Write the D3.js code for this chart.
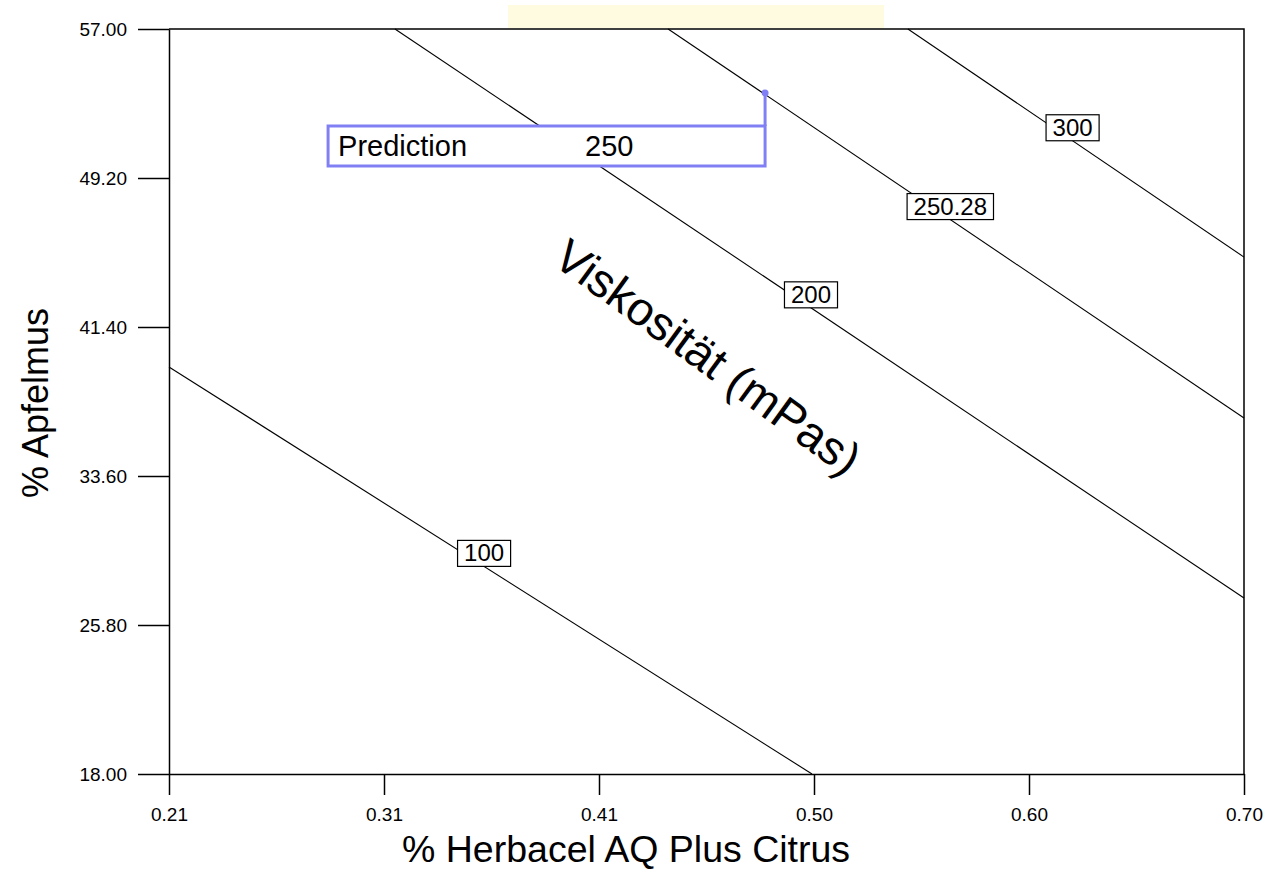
<!DOCTYPE html>
<html>
<head>
<meta charset="utf-8">
<script src="https://cdn.jsdelivr.net/npm/d3@7"></script>
<style>
  html, body { margin: 0; padding: 0; background: #fff; }
  svg { display: block; font-family: "Liberation Sans", Arial, sans-serif; }
</style>
</head>
<body>
<div id="chart"></div>
<script>
// Achsen
const xDomain = [0.21, 0.70];
const yDomain = [18.0, 57.0];
const xTicks = [0.21, 0.308, 0.406, 0.504, 0.602, 0.70];
const yTicks = [18.0, 25.8, 33.6, 41.4, 49.2, 57.0];

// Konturlinien (Viskosität), je Start- und Endpunkt in Datenkoordinaten
const contourLevels = ["100", "200", "250.28", "300"];
const contourStart = [[0.21, 39.31], [0.313, 57.0], [0.4375, 57.0], [0.5468, 57.0]];
const contourEnd = [[0.5031, 18.0], [0.70, 27.21], [0.70, 36.64], [0.70, 45.06]];

// Vorhersagepunkt
const predPoint = [0.4817, 53.65];
const predValue = "250";

const width = 1268, height = 872;
const margin = { top: 29, right: 24, bottom: 98, left: 169 };
const innerW = width - margin.left - margin.right,
  innerH = height - margin.top - margin.bottom;

const svg = d3.select("#chart").append("svg")
  .attr("width", width).attr("height", height)
  .style("background", "white");

// gelber Kasten oben
svg.append("rect")
  .attr("x", 508).attr("y", 5).attr("width", 376).attr("height", 23)
  .attr("fill", "#fefbe0");

const g = svg.append("g").attr("transform", `translate(${margin.left},${margin.top})`);

const x = d3.scaleLinear().domain(xDomain).range([0, innerW]);
const y = d3.scaleLinear().domain(yDomain).range([innerH, 0]);

// Konturlinien
const labelT = 0.49;
contourLevels.forEach((lvl, i) => {
  const [x0, y0] = contourStart[i], [x1, y1] = contourEnd[i];
  g.append("line")
    .attr("x1", x(x0)).attr("y1", y(y0))
    .attr("x2", x(x1)).attr("y2", y(y1))
    .attr("stroke", "#000").attr("stroke-width", 1.1);
});

// Beschriftungen der Konturen
contourLevels.forEach((lvl, i) => {
  const [x0, y0] = contourStart[i], [x1, y1] = contourEnd[i];
  const px = x(x0) + (x(x1) - x(x0)) * labelT,
    py = y(y0) + (y(y1) - y(y0)) * labelT;
  const lab = g.append("g").attr("transform", `translate(${px},${py})`);
  const t = lab.append("text")
    .attr("text-anchor", "middle")
    .attr("y", -5)
    .style("font-size", "24px")
    .attr("fill", "#000")
    .text(lvl);
  const bb = t.node().getBBox();
  lab.insert("rect", "text")
    .attr("x", bb.x - 6.5).attr("y", -26)
    .attr("width", bb.width + 13).attr("height", 26)
    .attr("fill", "#fff").attr("stroke", "#000").attr("stroke-width", 1.2);
});

// Achsen
const fmt = d3.format(".2f");
const yAxis = g.append("g")
  .call(d3.axisLeft(y).tickValues(yTicks).tickFormat(fmt).tickSize(31).tickSizeOuter(0).tickPadding(11));
const xAxis = g.append("g")
  .attr("transform", `translate(0,${innerH})`)
  .call(d3.axisBottom(x).tickValues(xTicks).tickFormat(fmt).tickSize(21).tickSizeOuter(0).tickPadding(13));
[yAxis, xAxis].forEach((a) => {
  a.select(".domain").attr("stroke", "#000").attr("stroke-width", 1.5);
  a.selectAll(".tick line").attr("stroke", "#000").attr("stroke-width", 1.5);
  a.selectAll(".tick text")
    .attr("fill", "#000")
    .style("font-size", "19px")
    .style("font-family", "'Liberation Sans', Arial, sans-serif");
});
// Rahmen oben und rechts
g.append("path")
  .attr("d", `M0,0H${innerW}V${innerH}`)
  .attr("fill", "none").attr("stroke", "#000").attr("stroke-width", 1.5);

// Vorhersage-Kasten
const ppx = x(predPoint[0]), ppy = y(predPoint[1]);
const boxW = 437, boxH = 40, boxTop = ppy + 33;
g.append("path")
  .attr("d", `M${ppx},${ppy}V${boxTop}`)
  .attr("stroke", "#8080f4").attr("stroke-width", 3).attr("fill", "none");
g.append("rect")
  .attr("x", ppx - boxW).attr("y", boxTop)
  .attr("width", boxW).attr("height", boxH)
  .attr("fill", "#fff").attr("stroke", "#8080f4").attr("stroke-width", 3);
g.append("circle")
  .attr("cx", ppx).attr("cy", ppy).attr("r", 3.5)
  .attr("fill", "#8080f4");
g.append("text")
  .attr("x", ppx - boxW + 10).attr("y", boxTop + 30)
  .style("font-size", "29px").attr("fill", "#000")
  .text("Prediction");
g.append("text")
  .attr("x", ppx - boxW + 257).attr("y", boxTop + 30)
  .style("font-size", "29px").attr("fill", "#000")
  .text(predValue);

// Titel diagonal
svg.append("text")
  .attr("transform", "translate(708,357) rotate(36)")
  .attr("text-anchor", "middle")
  .attr("dominant-baseline", "central")
  .style("font-size", "47px")
  .attr("fill", "#000")
  .text("Viskosität (mPas)");

// Achsentitel
svg.append("text")
  .attr("x", 402).attr("y", 862)
  .attr("text-anchor", "start")
  .style("font-size", "37.5px")
  .text("% Herbacel AQ Plus Citrus");
svg.append("text")
  .attr("transform", "translate(48,403) rotate(-90)")
  .attr("text-anchor", "middle")
  .style("font-size", "36px")
  .text("%  Apfelmus");
</script>
</body>
</html>
